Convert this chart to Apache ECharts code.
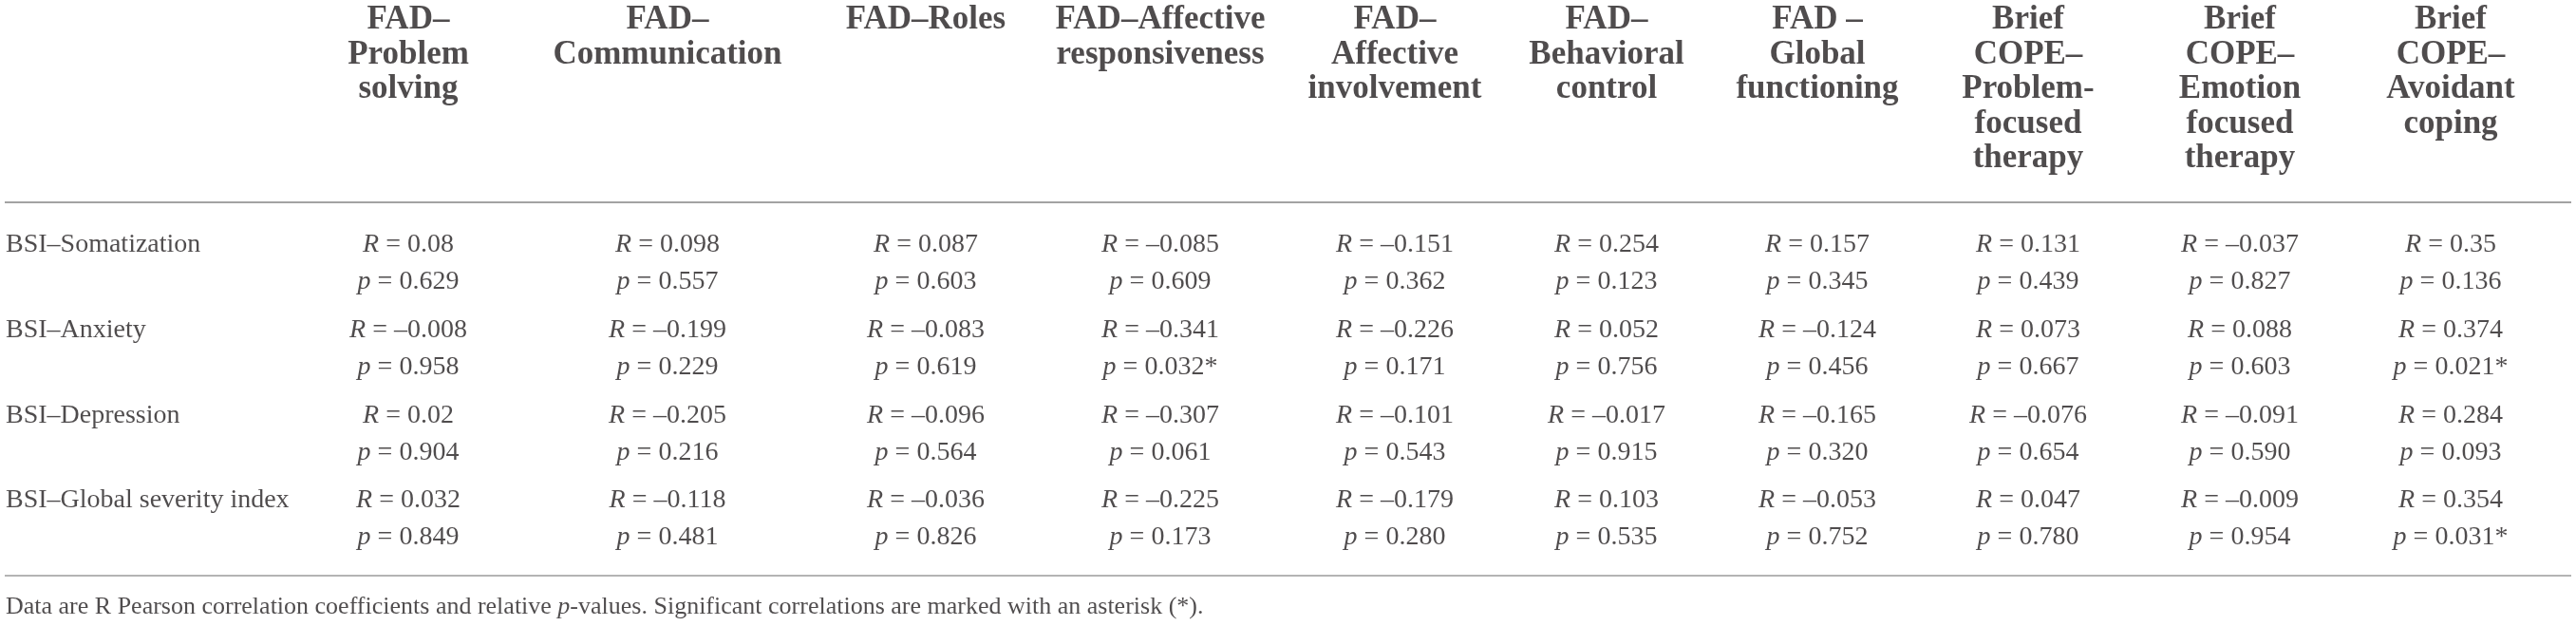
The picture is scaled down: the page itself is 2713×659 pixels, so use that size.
<!DOCTYPE html>
<html>
<head>
<meta charset="utf-8">
<script src="https://cdn.jsdelivr.net/npm/echarts@6/dist/echarts.min.js"></script>
<style>
  html, body { margin: 0; padding: 0; background: #fff; }
  #chart { width: 2713px; height: 659px; }
</style>
</head>
<body>
<div id="chart"></div>
<script>
// column headers, one entry per printed line
var headers = [
  ['FAD\u2013', 'Problem', 'solving'],
  ['FAD\u2013', 'Communication'],
  ['FAD\u2013Roles'],
  ['FAD\u2013Affective', 'responsiveness'],
  ['FAD\u2013', 'Affective', 'involvement'],
  ['FAD\u2013', 'Behavioral', 'control'],
  ['FAD \u2013', 'Global', 'functioning'],
  ['Brief', 'COPE\u2013', 'Problem-', 'focused', 'therapy'],
  ['Brief', 'COPE\u2013', 'Emotion', 'focused', 'therapy'],
  ['Brief', 'COPE\u2013', 'Avoidant', 'coping']
];

var rowNames = ['BSI\u2013Somatization', 'BSI\u2013Anxiety', 'BSI\u2013Depression', 'BSI\u2013Global severity index'];

// Pearson R and p per row
var somatizationR = [0.08, 0.098, 0.087, -0.085, -0.151, 0.254, 0.157, 0.131, -0.037, 0.35];
var somatizationP = [0.629, 0.557, 0.603, 0.609, 0.362, 0.123, 0.345, 0.439, 0.827, 0.136];
var anxietyR = [-0.008, -0.199, -0.083, -0.341, -0.226, 0.052, -0.124, 0.073, 0.088, 0.374];
var anxietyP = [0.958, 0.229, 0.619, 0.032, 0.171, 0.756, 0.456, 0.667, 0.603, 0.021];
var depressionR = [0.02, -0.205, -0.096, -0.307, -0.101, -0.017, -0.165, -0.076, -0.091, 0.284];
var depressionP = [0.904, 0.216, 0.564, 0.061, 0.543, 0.915, 0.320, 0.654, 0.590, 0.093];
var globalR = [0.032, -0.118, -0.036, -0.225, -0.179, 0.103, -0.053, 0.047, -0.009, 0.354];
var globalP = [0.849, 0.481, 0.826, 0.173, 0.280, 0.535, 0.752, 0.780, 0.954, 0.031];

var footnote = 'Data are R Pearson correlation coefficients and relative {it|p}-values. Significant correlations are marked with an asterisk (*).';

// layout (table units = px)
var labelColWidth = 329;
var colWidths = [192, 354, 190, 304, 190, 256, 188, 256, 190, 254];
var headerFirstY = 21, headerLineH = 36.5;
var bodyFirstY = 258, rowPitch = 89.7, pOffset = 39;
var headerRuleY = 213, bottomRuleY = 606, footY = 639;

var serif = '"Liberation Serif", "DejaVu Serif", serif';
var ink = '#231f20';

var allR = [somatizationR, anxietyR, depressionR, globalR];
var allP = [somatizationP, anxietyP, depressionP, globalP];

var colCenters = [];
var acc = labelColWidth;
colWidths.forEach(function (w) { colCenters.push(acc + w / 2); acc += w; });
var tableWidth = acc;

function dash(v) { return v < 0 ? '\u2013' : ''; }

var headerData = [];
headers.forEach(function (lines, i) {
  lines.forEach(function (t, k) {
    headerData.push([colCenters[i], headerFirstY + k * headerLineH, t]);
  });
});

var labelData = rowNames.map(function (n, r) { return [1, bodyFirstY + r * rowPitch, n]; });

var rData = [], pData = [];
allR.forEach(function (vals, r) {
  vals.forEach(function (v, i) {
    rData.push([colCenters[i], bodyFirstY + r * rowPitch, v]);
    pData.push([colCenters[i], bodyFirstY + r * rowPitch + pOffset, allP[r][i]]);
  });
});

var italic = { it: { fontStyle: 'italic', fontFamily: serif, fontSize: 28, color: ink } };

function textSeries(data, label) {
  return {
    type: 'scatter',
    data: data,
    symbolSize: 0,
    silent: true,
    label: Object.assign({
      show: true,
      position: 'inside',
      color: ink,
      fontFamily: serif,
      fontSize: 28
    }, label)
  };
}

var chart = echarts.init(document.getElementById('chart'));
chart.setOption({
  animation: false,
  grid: { left: 5, right: 5, top: 0, bottom: 0 },
  xAxis: { type: 'value', min: 0, max: tableWidth, show: false },
  yAxis: { type: 'value', min: 0, max: 659, inverse: true, show: false },
  series: [
    Object.assign(textSeries(headerData, {
      fontWeight: 'bold', fontSize: 35, align: 'center', verticalAlign: 'middle',
      formatter: function (p) { return p.data[2]; }
    }), {
      markLine: {
        silent: true,
        symbol: 'none',
        label: { show: false },
        data: [
          { yAxis: headerRuleY, lineStyle: { color: '#858585', width: 1.5, type: 'solid' } },
          { yAxis: bottomRuleY, lineStyle: { color: '#b4b4b4', width: 2, type: 'solid' } }
        ]
      }
    }),
    textSeries(labelData, {
      align: 'left', verticalAlign: 'middle',
      formatter: function (p) { return p.data[2]; }
    }),
    textSeries(rData, {
      align: 'center', verticalAlign: 'middle', rich: italic,
      formatter: function (p) {
        var v = p.data[2];
        return '{it|R} = ' + dash(v) + String(Math.abs(v));
      }
    }),
    textSeries(pData, {
      align: 'center', verticalAlign: 'middle', rich: italic,
      formatter: function (p) {
        var v = p.data[2];
        return '{it|p} = ' + v.toFixed(3) + (v < 0.05 ? '*' : '');
      }
    }),
    textSeries([[1, footY, footnote]], {
      align: 'left', verticalAlign: 'middle', fontSize: 26,
      rich: { it: { fontStyle: 'italic', fontFamily: serif, fontSize: 26, color: ink } },
      formatter: function (p) { return p.data[2]; }
    })
  ]
});
</script>
</body>
</html>
